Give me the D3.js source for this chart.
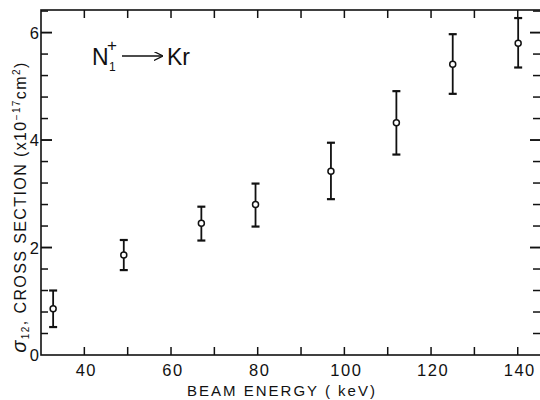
<!DOCTYPE html>
<html>
<head>
<meta charset="utf-8">
<script src="https://cdn.jsdelivr.net/npm/d3@7"></script>
<style>
  html, body { margin: 0; padding: 0; background: #fff; }
  svg { display: block; }
  text { font-family: "Liberation Sans", Arial, Helvetica, sans-serif; fill: #111; }
</style>
</head>
<body>
<svg id="chart" width="540" height="400"></svg>
<script>
// ---- data ----
const energies = [32.8, 49.1, 67.0, 79.5, 96.9, 112.0, 125.0, 140.1];   // keV
const crossSection = [0.86, 1.86, 2.45, 2.80, 3.42, 4.32, 5.41, 5.80]; // x10^-17 cm^2
const errUpper = [1.20, 2.14, 2.76, 3.19, 3.95, 4.91, 5.97, 6.27];
const errLower = [0.52, 1.58, 2.13, 2.39, 2.90, 3.73, 4.86, 5.35];
const xTickLabels = [40, 60, 80, 100, 120, 140];
const yTickLabels = [0, 2, 4, 6];
const xTitle = "BEAM ENERGY ( keV)";
const reaction = { projectile: "N", sub: "1", sup: "+", target: "Kr" };

// ---- layout ----
const W = 540, H = 400;
const m = { left: 41, right: -2, top: 10, bottom: 45 };
const svg = d3.select("#chart");
const x = d3.scaleLinear().domain([30, 145.6]).range([m.left, W - m.right]);
const y = d3.scaleLinear().domain([0, 6.42]).range([H - m.bottom, m.top]);
const ink = "#111";

// frame
svg.append("rect")
  .attr("x", x.range()[0]).attr("y", y.range()[1])
  .attr("width", x.range()[1] - x.range()[0])
  .attr("height", y.range()[0] - y.range()[1])
  .attr("fill", "none").attr("stroke", ink).attr("stroke-width", 1.6);

// x ticks (every 10) bottom and top, inward
const xTicks = d3.range(40, 141, 10);
const yMinor = d3.range(0.4, 6.41, 0.4).map(v => +v.toFixed(1));
const g = svg.append("g").attr("stroke", ink).attr("stroke-width", 1.5);
xTicks.forEach(t => {
  g.append("line").attr("x1", x(t)).attr("x2", x(t))
    .attr("y1", y(0)).attr("y2", y(0) - 8);
  g.append("line").attr("x1", x(t)).attr("x2", x(t))
    .attr("y1", y.range()[1]).attr("y2", y.range()[1] + 8);
});
// y ticks left and right
yMinor.concat(yTickLabels.filter(v => v > 0)).forEach(v => {
  const major = yTickLabels.includes(v);
  g.append("line").attr("x1", x.range()[0]).attr("x2", x.range()[0] + (major ? 11 : 7))
    .attr("y1", y(v)).attr("y2", y(v));
  g.append("line").attr("x1", x.range()[1]).attr("x2", x.range()[1] - (major ? 12 : 9))
    .attr("y1", y(v)).attr("y2", y(v));
});

// tick labels
svg.selectAll(".xl").data(xTickLabels).enter().append("text")
  .attr("x", d => x(d) + 2).attr("y", y(0) + 21)
  .attr("text-anchor", "middle").attr("font-size", 16.5)
  .attr("letter-spacing", 1.5)
  .text(d => d);
svg.selectAll(".yl").data(yTickLabels).enter().append("text")
  .attr("x", x.range()[0] - 2).attr("y", d => y(d) + 6)
  .attr("text-anchor", "end").attr("font-size", 16.5)
  .text(d => d);

// x title
svg.append("text")
  .attr("x", 282).attr("y", 396)
  .attr("text-anchor", "middle").attr("font-size", 15)
  .attr("letter-spacing", 2)
  .text(xTitle);

// y title (rotated)
const yt = svg.append("text")
  .attr("transform", "translate(26,207) rotate(-90)")
  .attr("text-anchor", "middle").attr("font-size", 16)
  .attr("letter-spacing", 1.4);
yt.append("tspan").attr("font-style", "italic").attr("font-size", 20).text("σ");
yt.append("tspan").attr("font-size", 10).attr("dy", 3).text("12");
yt.append("tspan").attr("dy", -3).text(", CROSS SECTION (x10");
yt.append("tspan").attr("font-size", 10).attr("dy", -6).text("−17");
yt.append("tspan").attr("dy", 6).text("cm");
yt.append("tspan").attr("font-size", 10).attr("dy", -6).text("2");
yt.append("tspan").attr("dy", 6).text(")");

// reaction annotation
svg.append("text").attr("x", 92).attr("y", 65).attr("font-size", 23).text(reaction.projectile);
svg.append("text").attr("x", 107).attr("y", 51).attr("font-size", 17).text(reaction.sup);
svg.append("text").attr("x", 109).attr("y", 71).attr("font-size", 12).text(reaction.sub);
svg.append("defs").append("marker")
  .attr("id", "arr").attr("viewBox", "0 0 10 10").attr("refX", 9).attr("refY", 5)
  .attr("markerWidth", 9).attr("markerHeight", 9).attr("markerUnits", "userSpaceOnUse")
  .attr("orient", "auto")
  .append("path").attr("d", "M0,0 L10,5 L0,10").attr("fill", "none")
  .attr("stroke", ink).attr("stroke-width", 1.4);
svg.append("line").attr("x1", 122).attr("x2", 162).attr("y1", 56).attr("y2", 56)
  .attr("stroke", ink).attr("stroke-width", 1.5).attr("marker-end", "url(#arr)");
svg.append("text").attr("x", 167).attr("y", 65).attr("font-size", 23).text(reaction.target);

// error bars and points
const pts = energies.map((e, i) => ({ e, v: crossSection[i], hi: errUpper[i], lo: errLower[i] }));
const eb = svg.append("g").attr("stroke", ink);
pts.forEach(p => {
  eb.append("line").attr("x1", x(p.e)).attr("x2", x(p.e))
    .attr("y1", y(p.hi)).attr("y2", y(p.lo)).attr("stroke-width", 1.8);
  [p.hi, p.lo].forEach(c => {
    eb.append("line").attr("x1", x(p.e) - 4).attr("x2", x(p.e) + 4)
      .attr("y1", y(c)).attr("y2", y(c)).attr("stroke-width", 2.2);
  });
});
svg.selectAll(".pt").data(pts).enter().append("circle")
  .attr("cx", d => x(d.e)).attr("cy", d => y(d.v)).attr("r", 3)
  .attr("fill", "#fff").attr("stroke", ink).attr("stroke-width", 1.5);
</script>
</body>
</html>
